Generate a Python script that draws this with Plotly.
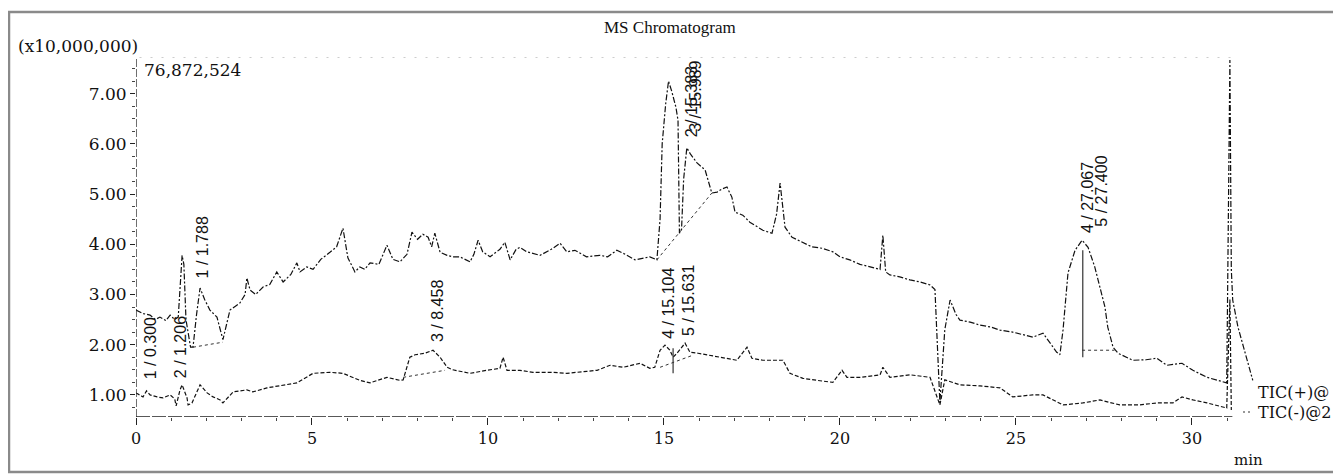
import plotly.graph_objects as go

# ---------------- data ----------------
# TIC(+) trace : retention time (min) and intensity (x10,000,000)
pos_time = [0.0, 0.2, 0.4, 0.55, 0.68, 0.85, 0.97, 1.1, 1.2, 1.25, 1.31, 1.36, 1.42, 1.55,
            1.62, 1.72, 1.82, 1.95, 2.1, 2.3, 2.47, 2.67, 2.95, 3.1, 3.15, 3.24, 3.4, 3.61,
            3.8, 4.0, 4.18, 4.4, 4.57, 4.66, 4.85, 5.03, 5.25, 5.51, 5.7, 5.88, 6.02, 6.22,
            6.36, 6.5, 6.65, 6.9, 7.13, 7.3, 7.5, 7.7, 7.84, 8.0, 8.15, 8.3, 8.4, 8.49, 8.64,
            8.84, 9.0, 9.2, 9.49, 9.6, 9.72, 9.85, 10.06, 10.34, 10.48, 10.63, 10.8, 10.91,
            11.1, 11.48, 11.8, 12.05, 12.24, 12.47, 12.8, 13.18, 13.4, 13.66, 13.9, 14.18,
            14.4, 14.6, 14.8, 14.89, 14.95, 15.05, 15.13, 15.22, 15.34, 15.4, 15.44, 15.5,
            15.56, 15.65, 15.75, 15.94, 16.17, 16.36, 16.51, 16.65, 16.79, 16.93, 17.02,
            17.24, 17.44, 17.81, 18.07, 18.2, 18.3, 18.44, 18.64, 18.86, 19.2, 19.5, 19.8,
            20.0, 20.28, 20.57, 20.85, 21.14, 21.22, 21.3, 21.42, 21.7, 21.99, 22.27, 22.56,
            22.7, 22.84, 22.98, 23.13, 23.3, 23.41, 23.7, 23.98, 24.3, 24.55, 24.91, 25.2,
            25.48, 25.77, 26.0, 26.16, 26.25, 26.34, 26.48, 26.68, 26.88, 27.05, 27.24,
            27.39, 27.53, 27.61, 27.76, 27.9, 28.32, 28.7, 29.0, 29.29, 29.72, 30.03, 30.43,
            30.99, 31.08, 31.12, 31.16, 31.31, 31.56, 31.73]
pos_int = [2.69, 2.62, 2.59, 2.5, 2.55, 2.48, 2.59, 2.5, 2.55, 3.2, 3.78, 3.6, 2.5, 1.95,
           1.95, 2.6, 3.13, 2.9, 2.69, 2.55, 2.1, 2.69, 2.83, 3.0, 3.33, 3.09, 3.0, 3.15,
           3.2, 3.45, 3.25, 3.4, 3.63, 3.45, 3.55, 3.5, 3.7, 3.84, 3.95, 4.32, 3.73, 3.45,
           3.55, 3.5, 3.63, 3.6, 3.98, 3.7, 3.65, 3.8, 4.24, 4.1, 4.2, 4.14, 3.95, 4.22, 3.84,
           3.78, 3.75, 3.75, 3.65, 3.8, 4.08, 3.85, 3.75, 3.9, 4.04, 3.69, 3.9, 3.94,
           3.85, 3.78, 3.9, 4.02, 3.85, 3.88, 3.75, 3.78, 3.75, 3.88, 3.8, 3.69,
           3.72, 3.75, 3.69, 4.5, 6.0, 6.8, 7.25, 7.05, 6.73, 6.47, 4.22, 4.3,
           5.3, 5.92, 5.8, 5.62, 5.48, 5.02, 5.04, 5.1, 5.14, 4.94, 4.64,
           4.58, 4.44, 4.28, 4.22, 4.6, 5.22, 4.34, 4.14, 4.06, 3.95, 3.92, 3.85,
           3.75, 3.69, 3.6, 3.55, 3.5, 4.18, 3.45, 3.39, 3.35, 3.29, 3.25, 3.19,
           3.1, 0.85, 2.3, 2.89, 2.6, 2.49, 2.45, 2.39, 2.35, 2.29, 2.25, 2.2,
           2.15, 2.23, 2.0, 1.85, 1.8, 2.3, 3.43, 3.88, 4.08, 3.94, 3.55,
           3.15, 2.75, 2.35, 1.95, 1.83, 1.69, 1.7, 1.73, 1.59, 1.63, 1.49, 1.35,
           1.24, 7.67, 3.5, 2.89, 2.35, 1.75, 1.29]

# TIC(-) trace
neg_time = [0.0, 0.2, 0.3, 0.4, 0.6, 0.77, 0.97, 1.1, 1.14, 1.25, 1.31, 1.45, 1.48, 1.59,
            1.82, 2.02, 2.19, 2.39, 2.47, 2.76, 3.15, 3.32, 3.72, 4.18, 4.57, 5.03, 5.51,
            5.88, 6.36, 6.65, 7.13, 7.5, 7.59, 7.78, 7.93, 8.21, 8.44, 8.64, 8.84, 9.0,
            9.49, 9.97, 10.34, 10.43, 10.54, 10.91, 11.28, 11.85, 12.24, 12.81, 13.1,
            13.47, 13.84, 14.32, 14.6, 14.74, 14.89, 15.03, 15.17, 15.26, 15.37, 15.6,
            15.74, 15.97, 16.31, 16.68, 17.07, 17.36, 17.5, 17.81, 18.38, 18.58, 18.95,
            19.35, 19.8, 20.06, 20.2, 20.57, 21.14, 21.22, 21.42, 21.99, 22.56, 22.84,
            22.98, 23.41, 23.98, 24.55, 24.91, 25.48, 25.77, 26.34, 26.9, 27.39, 27.95,
            28.52, 29.0, 29.46, 29.72, 30.03, 30.43, 30.99, 31.08, 31.12]
neg_int = [1.04, 0.96, 1.08, 1.0, 0.96, 0.94, 1.0, 0.92, 0.78, 1.1, 1.2, 0.94, 0.8, 0.84,
           1.2, 1.04, 0.96, 0.9, 0.84, 1.06, 1.1, 1.06, 1.14, 1.2, 1.24, 1.43, 1.45,
           1.43, 1.29, 1.24, 1.35, 1.29, 1.3, 1.75, 1.8, 1.83, 1.89, 1.75, 1.55, 1.5,
           1.43, 1.49, 1.53, 1.75, 1.49, 1.49, 1.45, 1.45, 1.43, 1.47, 1.49,
           1.59, 1.55, 1.63, 1.53, 1.55, 1.89, 1.99, 1.89, 1.75, 1.83, 2.03,
           1.85, 1.83, 1.79, 1.75, 1.69, 1.95, 1.73, 1.69, 1.69, 1.43, 1.33,
           1.29, 1.25, 1.49, 1.35, 1.35, 1.4, 1.55, 1.35, 1.4, 1.35, 0.8,
           1.3, 1.2, 1.18, 1.14, 0.96, 1.0, 1.0, 0.8, 0.84, 0.9, 0.8,
           0.8, 0.84, 0.84, 0.96, 0.9, 0.84, 0.74, 2.9, 0.7]

# integration baselines (start time, start int, end time, end int)
baseline_t0 = [1.62, 14.8, 26.88, 7.59, 14.89]
baseline_v0 = [1.95, 3.69, 1.89, 1.35, 1.55]
baseline_t1 = [2.47, 16.36, 27.8, 8.78, 15.82]
baseline_v1 = [2.05, 5.02, 1.89, 1.49, 1.79]

# peak markers (time, low, high)
marker_t = [26.9, 15.26]
marker_lo = [1.75, 1.43]
marker_hi = [3.88, 1.93]

# peak labels: text, time, intensity at label centre
peak_text = ["1 / 0.300", "2 / 1.206", "1 / 1.788", "3 / 8.458", "4 / 15.104",
             "5 / 15.631", "2 / 15.383", "3 / 15.989", "4 / 27.067", "5 / 27.400"]
peak_t = [0.4, 1.25, 1.88, 8.55, 15.11, 15.68, 15.77, 15.9, 27.02, 27.42]
peak_v = [1.93, 1.95, 3.94, 2.67, 2.83, 2.89, 6.83, 6.95, 4.92, 5.05]

y_tick_vals = [1, 2, 3, 4, 5, 6, 7]
x_tick_vals = [0, 5, 10, 15, 20, 25, 30]
max_label = "76,872,524"
scale_label = "(x10,000,000)"
title_text = "MS Chromatogram"
legend_pos = "TIC(+)@"
legend_neg = "TIC(-)@2"

# ---------------- layout geometry ----------------
# page has an 8px body margin, so the figure is a bit smaller than the window
OFF = 8
W, H = 1341 - OFF, 475 - OFF
PL, PR, PT, PB = 136, 1257, 57, 417          # plot area in page pixels
X_RANGE = [0, 31.85]
Y_RANGE = [0.56, 7.73]
AXIS_END = 31.15


def px_x(px):
    return (px - PL) / (PR - PL)


def px_y(py):
    return (PB - py) / (PB - PT)


SERIF = "Liberation Serif, Times New Roman, serif"
SERIF_W = "DejaVu Serif, serif"
SANS = "Liberation Sans, Arial, sans-serif"

fig = go.Figure()

fig.add_trace(go.Scatter(x=pos_time, y=pos_int, mode="lines", name=legend_pos,
                         line=dict(color="#111", width=1.2, dash="6px,2px,2px,2px"),
                         hoverinfo="skip"))
fig.add_trace(go.Scatter(x=neg_time, y=neg_int, mode="lines", name=legend_neg,
                         line=dict(color="#111", width=1.2, dash="4px,2px"),
                         hoverinfo="skip"))

shapes = []
for a, b, c, d in zip(baseline_t0, baseline_v0, baseline_t1, baseline_v1):
    shapes.append(dict(type="line", xref="x", yref="y", x0=a, y0=b, x1=c, y1=d,
                       line=dict(color="#333", width=1, dash="3px,3px")))
for t, lo, hi in zip(marker_t, marker_lo, marker_hi):
    shapes.append(dict(type="line", xref="x", yref="y", x0=t, y0=lo, x1=t, y1=hi,
                       line=dict(color="#333", width=1.2)))
# x axis line (ends at end of run)
shapes.append(dict(type="line", xref="x", yref="y", x0=0, y0=Y_RANGE[0], x1=AXIS_END,
                   y1=Y_RANGE[0], line=dict(color="#222", width=1.5, dash="14px,2px")))
# y axis line
shapes.append(dict(type="line", xref="x", yref="y", x0=0, y0=Y_RANGE[0], x1=0,
                   y1=Y_RANGE[1], line=dict(color="#222", width=1.3, dash="8px,2px")))
# faint dotted top line
shapes.append(dict(type="line", xref="x", yref="y", x0=0.1, y0=Y_RANGE[1], x1=AXIS_END,
                   y1=Y_RANGE[1], line=dict(color="#999", width=1, dash="2px,9px")))
# legend sample for TIC(-)
shapes.append(dict(type="line", xref="paper", yref="paper", x0=px_x(1243), x1=px_x(1253),
                   y0=px_y(412), y1=px_y(412), line=dict(color="#333", width=1.2, dash="2px,3px")))
# outer frame
shapes.append(dict(type="rect", xref="paper", yref="paper", x0=px_x(9), x1=px_x(1338),
                   y0=px_y(12), y1=px_y(472), line=dict(color="#8a8a8a", width=2.5)))

annotations = []
for txt, t, v in zip(peak_text, peak_t, peak_v):
    annotations.append(dict(x=t, y=v, xref="x", yref="y", text=txt, showarrow=False,
                            textangle=-90, xanchor="center", yanchor="middle",
                            font=dict(family=SANS, size=16, color="#111")))


def page_text(text, x, y, font, size, xanchor="left"):
    return dict(x=px_x(x), y=px_y(y), xref="paper", yref="paper", text=text,
                showarrow=False, xanchor=xanchor, yanchor="middle",
                font=dict(family=font, size=size, color="#111"))


annotations += [
    page_text(title_text, 670, 27, SERIF, 17, "center"),
    page_text(scale_label, 16, 46, SERIF_W, 17),
    page_text(max_label, 142, 70, SERIF_W, 17),
    page_text("min", 1248, 460, SERIF_W, 15, "center"),
    page_text(legend_pos, 1256, 392, SERIF_W, 16),
    page_text(legend_neg, 1256, 412, SERIF_W, 16),
]

fig.update_layout(
    width=W, height=H,
    margin=dict(l=PL - OFF, r=W - (PR - OFF), t=PT - OFF, b=H - (PB - OFF), pad=0),
    paper_bgcolor="white", plot_bgcolor="white",
    showlegend=False,
    shapes=shapes, annotations=annotations,
    xaxis=dict(range=X_RANGE, showgrid=False, zeroline=False, showline=False,
               tickmode="array", tickvals=x_tick_vals, ticktext=[str(v) for v in x_tick_vals],
               ticks="outside", ticklen=7, tickcolor="#222", tickwidth=1.3,
               minor=dict(dtick=1, tick0=0, ticks="outside", ticklen=3, tickcolor="#444"),
               tickfont=dict(family=SERIF_W, size=16, color="#111")),
    yaxis=dict(range=Y_RANGE, showgrid=False, zeroline=False, showline=False,
               tickmode="array", tickvals=y_tick_vals,
               ticktext=["%.2f" % v for v in y_tick_vals],
               ticks="outside", ticklen=5, tickcolor="#222", tickwidth=1.3,
               minor=dict(dtick=0.25, tick0=0, ticks="outside", ticklen=3, tickcolor="#444"),
               tickfont=dict(family=SERIF_W, size=17, color="#111")),
)

fig.write_html("out.html")
